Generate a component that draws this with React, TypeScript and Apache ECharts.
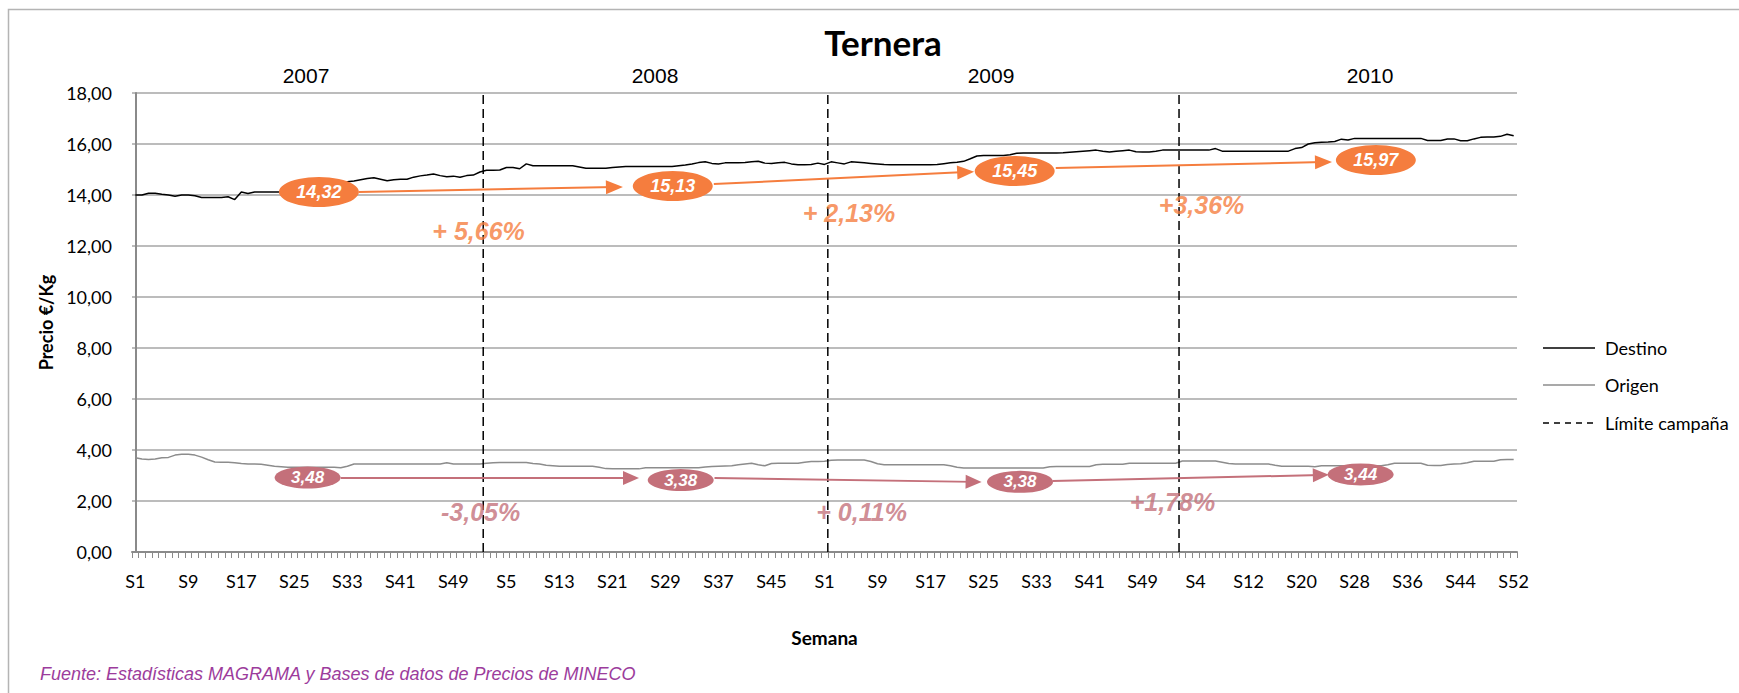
import React, { useEffect, useRef } from "react";
import * as echarts from "echarts";

// ---------- data ----------
const years = ["2007", "2008", "2009", "2010"];
const weeksPerYear = [52, 52, 53, 52];

const destino = [
  14.0, 14.0, 14.07, 14.07, 14.03, 14.0, 13.95, 14.0, 14.0, 13.97,
  13.9, 13.9, 13.9, 13.9, 13.93, 13.82, 14.12, 14.06, 14.12, 14.12,
  14.12, 14.12, 14.12, 14.12, 14.12, 14.13, 14.14, 14.15, 14.18, 14.25,
  14.35, 14.45, 14.52, 14.55, 14.6, 14.65, 14.68, 14.62, 14.56, 14.6,
  14.62, 14.62, 14.7, 14.75, 14.78, 14.82, 14.76, 14.72, 14.74, 14.7,
  14.76, 14.78, 14.9, 14.97, 14.97, 14.98, 15.08, 15.08, 15.03, 15.22,
  15.15, 15.15, 15.15, 15.15, 15.15, 15.15, 15.15, 15.1, 15.05, 15.05,
  15.05, 15.05, 15.08, 15.1, 15.12, 15.12, 15.12, 15.12, 15.12, 15.12,
  15.12, 15.12, 15.15, 15.18, 15.22, 15.27, 15.3, 15.24, 15.22, 15.26,
  15.26, 15.26, 15.27, 15.3, 15.32, 15.25, 15.24, 15.26, 15.28, 15.22,
  15.19, 15.19, 15.2, 15.25, 15.2, 15.3, 15.26, 15.22, 15.3, 15.28,
  15.26, 15.24, 15.22, 15.2, 15.19, 15.19, 15.19, 15.19, 15.19, 15.19,
  15.19, 15.2, 15.23, 15.26, 15.28, 15.32, 15.42, 15.53, 15.55, 15.55,
  15.55, 15.55, 15.58, 15.64, 15.65, 15.65, 15.65, 15.65, 15.65, 15.65,
  15.66, 15.68, 15.7, 15.72, 15.74, 15.76, 15.72, 15.69, 15.72, 15.74,
  15.76, 15.7, 15.69, 15.69, 15.72, 15.76, 15.76, 15.76, 15.76, 15.76,
  15.76, 15.76, 15.76, 15.82, 15.72, 15.72, 15.72, 15.72, 15.72, 15.72,
  15.72, 15.72, 15.72, 15.72, 15.72, 15.82, 15.86, 16.0, 16.05, 16.07,
  16.08, 16.1, 16.19, 16.16, 16.22, 16.22, 16.22, 16.22, 16.22, 16.22,
  16.22, 16.22, 16.22, 16.22, 16.22, 16.14, 16.14, 16.14, 16.2, 16.2,
  16.13, 16.13, 16.2, 16.26, 16.27, 16.27, 16.3, 16.38, 16.32,
];

const origen = [
  3.7, 3.65, 3.63, 3.65, 3.7, 3.71, 3.8, 3.83, 3.83, 3.8,
  3.72, 3.62, 3.53, 3.52, 3.52, 3.5, 3.47, 3.45, 3.45, 3.44,
  3.4, 3.36, 3.34, 3.32, 3.32, 3.32, 3.32, 3.32, 3.32, 3.32,
  3.32, 3.3, 3.36, 3.45, 3.45, 3.45, 3.45, 3.45, 3.45, 3.45,
  3.45, 3.45, 3.45, 3.45, 3.45, 3.45, 3.45, 3.5, 3.45, 3.45,
  3.45, 3.45, 3.45, 3.48, 3.5, 3.51, 3.51, 3.51, 3.51, 3.51,
  3.47, 3.45, 3.4, 3.38, 3.36, 3.36, 3.36, 3.36, 3.36, 3.36,
  3.32, 3.27, 3.26, 3.26, 3.26, 3.26, 3.26, 3.3, 3.3, 3.3,
  3.3, 3.3, 3.3, 3.3, 3.3, 3.3, 3.33, 3.35, 3.36, 3.37,
  3.38, 3.42, 3.45, 3.48, 3.42, 3.38, 3.47, 3.48, 3.48, 3.48,
  3.48, 3.52, 3.55, 3.55, 3.56, 3.6, 3.61, 3.61, 3.61, 3.61,
  3.61, 3.55, 3.46, 3.42, 3.42, 3.42, 3.42, 3.42, 3.42, 3.42,
  3.42, 3.42, 3.42, 3.38, 3.32, 3.29, 3.29, 3.29, 3.29, 3.29,
  3.29, 3.29, 3.29, 3.29, 3.29, 3.29, 3.29, 3.29, 3.34, 3.35,
  3.35, 3.35, 3.35, 3.35, 3.35, 3.42, 3.44, 3.44, 3.44, 3.44,
  3.48, 3.48, 3.48, 3.48, 3.48, 3.48, 3.48, 3.48, 3.57, 3.57,
  3.57, 3.57, 3.57, 3.57, 3.52, 3.47, 3.45, 3.45, 3.45, 3.45,
  3.45, 3.45, 3.4, 3.36, 3.36, 3.36, 3.36, 3.36, 3.34, 3.38,
  3.38, 3.38, 3.38, 3.38, 3.38, 3.38, 3.38, 3.38, 3.38, 3.42,
  3.48, 3.48, 3.48, 3.48, 3.48, 3.4, 3.39, 3.39, 3.43, 3.45,
  3.46, 3.5, 3.56, 3.56, 3.56, 3.56, 3.62, 3.63, 3.63,
];

// campaign limits (position on the week index scale)
const campaignLimits = [52.5, 104.5, 157.5];

// campaign means and changes
const destinoMeans = [14.32, 15.13, 15.45, 15.97];
const origenMeans = [3.48, 3.38, 3.38, 3.44];
const destinoChanges = ["+ 5,66%", "+ 2,13%", "+3,36%"];
const origenChanges = ["-3,05%", "+ 0,11%", "+1,78%"];

// annotation anchors (week index, price)
const destinoMeanPos = [[27.7, 14.12], [81.1, 14.35], [132.7, 14.94], [187.2, 15.37]];
const origenMeanPos = [[26.0, 2.92], [82.3, 2.82], [133.5, 2.75], [184.9, 3.04]];
const destinoArrowPos = [
  [[33.7, 14.12], [72.3, 14.31]],
  [[87.3, 14.43], [125.3, 14.9]],
  [[138.9, 15.06], [179.3, 15.29]],
];
const origenArrowPos = [
  [[31.0, 2.9], [74.8, 2.9]],
  [[87.4, 2.9], [126.5, 2.75]],
  [[138.4, 2.78], [178.9, 3.02]],
];
const destinoChangePos = [[51.8, 12.59], [107.7, 13.29], [160.9, 13.61]];
const origenChangePos = [[52.1, 1.57], [109.6, 1.57], [156.5, 1.96]];

const categories: string[] = [];
weeksPerYear.forEach((n) => {
  for (let w = 1; w <= n; w++) categories.push("S" + w);
});

// ---------- styles ----------
const SANS = "Lato, 'Noto Sans', sans-serif";
const ARIAL = "'Liberation Sans', Arial, sans-serif";
const ORANGE = "#F57D3E";
const PINK = "#C4707A";
const GRID_GRAY = "#a6a6a6";
const AXIS_GRAY = "#8a8a8a";
const fmt = (v: number) => v.toFixed(2).replace(".", ",");

export default function App() {
  const ref = useRef<HTMLDivElement>(null);

  useEffect(() => {
    document.body.style.margin = "0";
    if (!ref.current) return;
    const chart = echarts.init(ref.current, undefined, { renderer: "svg" });

    const limitSeries = campaignLimits.map((x) => ({
      name: "Límite campaña",
      type: "line",
      xAxisIndex: 1,
      data: [[x, 0], [x, 18]],
      symbol: "none",
      silent: true,
      z: 4,
      lineStyle: { color: "#000", width: 1.5, type: [9, 5] },
    }));

    const yearX = [306, 655, 991, 1370];

    const option: any = {
      animation: false,
      backgroundColor: "#ffffff",
      tooltip: { show: false },
      grid: { left: 132, top: 93, width: 1385, height: 459, containLabel: false },
      xAxis: [
        {
          type: "category",
          data: categories,
          boundaryGap: true,
          axisLine: { lineStyle: { color: AXIS_GRAY, width: 2 } },
          axisTick: { show: true, interval: 0, length: 6, lineStyle: { color: AXIS_GRAY, width: 1 } },
          axisLabel: { interval: 7, margin: 20, fontSize: 18, fontFamily: SANS, color: "#000" },
          splitLine: { show: false },
          name: "Semana",
          nameLocation: "middle",
          nameGap: 76,
          nameTextStyle: { fontWeight: "bold", fontSize: 19, fontFamily: SANS, color: "#000" },
        },
        { type: "value", min: -0.5, max: 208.5, show: false },
      ],
      yAxis: {
        type: "value",
        min: 0,
        max: 18,
        interval: 2,
        axisLine: { show: true, lineStyle: { color: AXIS_GRAY, width: 2 } },
        axisTick: { show: false },
        splitLine: { show: true, lineStyle: { color: GRID_GRAY, width: 1.5 } },
        axisLabel: { formatter: (v: number) => fmt(v), margin: 20, fontSize: 18, fontFamily: SANS, color: "#000" },
        name: "Precio €/Kg",
        nameLocation: "middle",
        nameGap: 74,
        nameRotate: 90,
        nameTextStyle: { fontWeight: "bold", fontSize: 18, fontFamily: SANS, color: "#000" },
      },
      series: [
        {
          name: "Destino",
          type: "line",
          data: destino,
          symbol: "none",
          silent: true,
          z: 3,
          lineStyle: { color: "#000", width: 1.5 },
        },
        {
          name: "Origen",
          type: "line",
          data: origen,
          symbol: "none",
          silent: true,
          z: 3,
          lineStyle: { color: "#8c8c8c", width: 1.5 },
        },
        ...limitSeries,
        {
          name: "Media destino",
          type: "scatter",
          xAxisIndex: 1,
          silent: true,
          z: 6,
          symbol: "circle",
          symbolSize: [80, 30],
          itemStyle: { color: ORANGE, opacity: 1 },
          data: destinoMeans.map((v, i) => ({ value: [destinoMeanPos[i][0], destinoMeanPos[i][1]], label: { formatter: fmt(v) } })),
          label: {
            show: true,
            position: "inside",
            color: "#fff",
            fontStyle: "italic",
            fontWeight: "bold",
            fontSize: 18,
            fontFamily: ARIAL,
          },
          markLine: {
            silent: true,
            symbol: ["none", "triangle"],
            symbolSize: [14, 17],
            label: { show: false },
            lineStyle: { color: ORANGE, width: 2, type: "solid" },
            data: destinoArrowPos.map((p) => [{ coord: p[0] }, { coord: p[1] }]),
          },
        },
        {
          name: "Media origen",
          type: "scatter",
          xAxisIndex: 1,
          silent: true,
          z: 6,
          symbol: "circle",
          symbolSize: [66, 22],
          itemStyle: { color: PINK, opacity: 1 },
          data: origenMeans.map((v, i) => ({ value: [origenMeanPos[i][0], origenMeanPos[i][1]], label: { formatter: fmt(v) } })),
          label: {
            show: true,
            position: "inside",
            color: "#fff",
            fontStyle: "italic",
            fontWeight: "bold",
            fontSize: 17,
            fontFamily: ARIAL,
          },
          markLine: {
            silent: true,
            symbol: ["none", "triangle"],
            symbolSize: [14, 16],
            label: { show: false },
            lineStyle: { color: PINK, width: 2, type: "solid" },
            data: origenArrowPos.map((p) => [{ coord: p[0] }, { coord: p[1] }]),
          },
        },
        {
          name: "Variación destino",
          type: "scatter",
          xAxisIndex: 1,
          silent: true,
          z: 5,
          symbolSize: 1,
          itemStyle: { color: "rgba(0,0,0,0)" },
          data: destinoChanges.map((t, i) => ({ value: [destinoChangePos[i][0], destinoChangePos[i][1]], label: { formatter: t } })),
          label: {
            show: true,
            position: "inside",
            color: ORANGE,
            fontStyle: "italic",
            fontWeight: "bold",
            fontSize: 25,
            fontFamily: ARIAL,
          },
        },
        {
          name: "Variación origen",
          type: "scatter",
          xAxisIndex: 1,
          silent: true,
          z: 5,
          symbolSize: 1,
          itemStyle: { color: "rgba(0,0,0,0)" },
          data: origenChanges.map((t, i) => ({ value: [origenChangePos[i][0], origenChangePos[i][1]], label: { formatter: t } })),
          label: {
            show: true,
            position: "inside",
            color: PINK,
            fontStyle: "italic",
            fontWeight: "bold",
            fontSize: 25,
            fontFamily: ARIAL,
          },
        },
      ],
      graphic: [
        {
          type: "rect",
          silent: true,
          z: -10,
          shape: { x: 8.5, y: 9.5, width: 1800, height: 800 },
          style: { fill: "none", stroke: "#b4b4b4", lineWidth: 1.5 },
        },
        {
          type: "text",
          silent: true,
          x: 883,
          y: 42,
          style: { text: "Ternera", font: `bold 35px ${SANS}`, fill: "#000", align: "center", verticalAlign: "middle" },
        },
        ...years.map((y, i) => ({
          type: "text",
          silent: true,
          x: yearX[i],
          y: 75,
          style: { text: y, font: `21px ${ARIAL}`, fill: "#000", align: "center", verticalAlign: "middle" },
        })),
        // legend
        { type: "line", silent: true, shape: { x1: 1543, y1: 348, x2: 1595, y2: 348 }, style: { stroke: "#000", lineWidth: 1.5 } },
        { type: "text", silent: true, x: 1605, y: 348, style: { text: "Destino", font: `18px ${SANS}`, fill: "#000", verticalAlign: "middle" } },
        { type: "line", silent: true, shape: { x1: 1543, y1: 385, x2: 1595, y2: 385 }, style: { stroke: "#8c8c8c", lineWidth: 1.5 } },
        { type: "text", silent: true, x: 1605, y: 385, style: { text: "Origen", font: `18px ${SANS}`, fill: "#000", verticalAlign: "middle" } },
        { type: "line", silent: true, shape: { x1: 1543, y1: 423, x2: 1595, y2: 423 }, style: { stroke: "#000", lineWidth: 1.5, lineDash: [6, 5] } },
        { type: "text", silent: true, x: 1605, y: 423, style: { text: "Límite campaña", font: `18px ${SANS}`, fill: "#000", verticalAlign: "middle" } },
        {
          type: "text",
          silent: true,
          x: 40,
          y: 674,
          style: {
            text: "Fuente: Estadísticas MAGRAMA y Bases de datos de Precios de MINECO",
            font: `italic 18px ${ARIAL}`,
            fill: "#9C3C9C",
            verticalAlign: "middle",
          },
        },
      ],
    };

    chart.setOption(option);
    return () => chart.dispose();
  }, []);

  return <div ref={ref} style={{ width: 1739, height: 693, background: "#fff" }} />;
}
